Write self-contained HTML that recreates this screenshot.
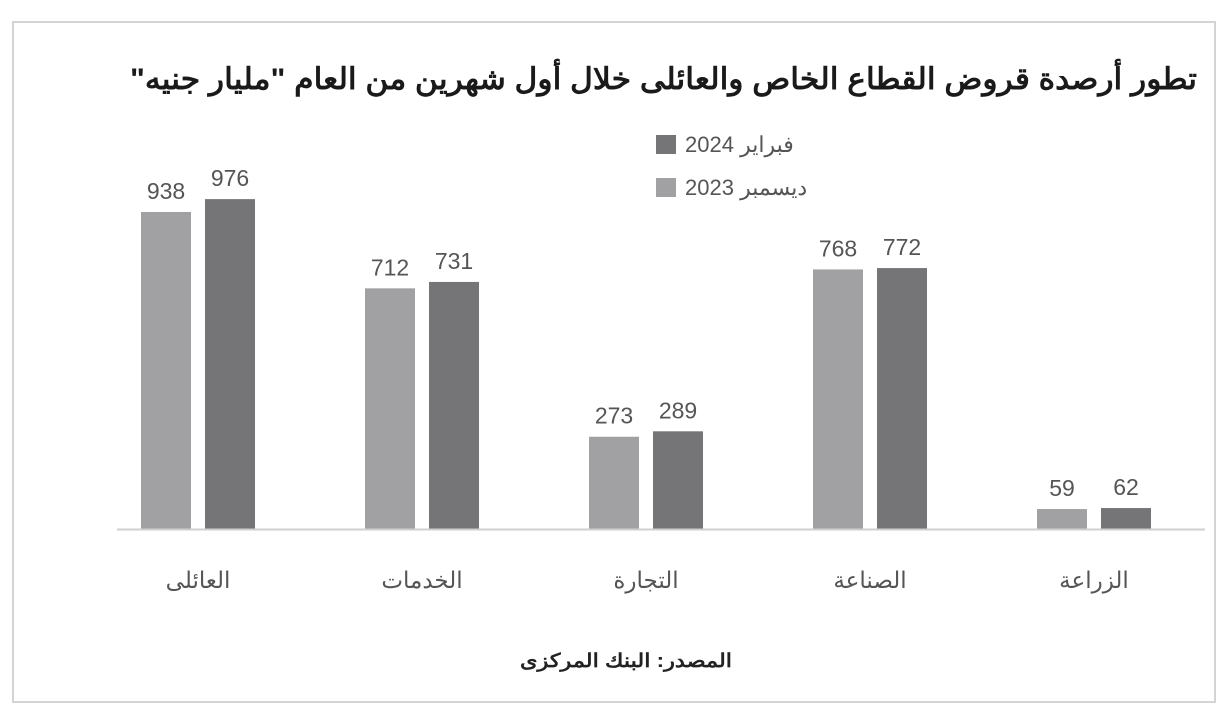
<!DOCTYPE html>
<html><head><meta charset="utf-8">
<style>
html,body{margin:0;padding:0;background:#fff;}
svg{display:block;font-family:"Liberation Sans","Noto Sans CJK SC",sans-serif;}
</style></head>
<body>
<svg id="chart" width="1228" height="720" viewBox="0 0 1228 720">
  <rect x="13" y="22" width="1202" height="680" fill="#fff" stroke="#d4d4d4" stroke-width="2"/>
  <text x="1197" y="89" text-anchor="start" direction="rtl" font-size="30" font-weight="bold" fill="#1a1a1a" textLength="1067" lengthAdjust="spacingAndGlyphs">تطور أرصدة قروض القطاع الخاص والعائلى خلال أول شهرين من العام "مليار جنيه"</text>
  <g>
    <rect x="656" y="135" width="20" height="19" fill="#757577"/>
    <text x="685" y="152" font-size="22" fill="#555"><tspan>2024</tspan><tspan direction="rtl"> فبراير</tspan></text>
    <rect x="656" y="178" width="20" height="19" fill="#a1a1a3"/>
    <text x="685" y="195" font-size="22" fill="#555"><tspan>2023</tspan><tspan direction="rtl"> ديسمبر</tspan></text>
  </g>
  <g id="plot"></g>
  <line x1="117" y1="529.5" x2="1205" y2="529.5" stroke="#cfcfcf" stroke-width="2"/>
  <text x="732" y="667" text-anchor="start" direction="rtl" font-size="19" font-weight="bold" fill="#222" textLength="212" lengthAdjust="spacingAndGlyphs">المصدر: البنك المركزى</text>
</svg>
<script>
const categories = ["العائلى","الخدمات","التجارة","الصناعة","الزراعة"];
const dec2023 = [938,712,273,768,59];
const feb2024 = [976,731,289,772,62];

const NS = "http://www.w3.org/2000/svg";
const plot = document.getElementById("plot");
const baseY = 529, pxPerUnit = 0.338;
const firstX = 141, groupStep = 224, barW = 50, barGap = 14;
function yScale(v){ return baseY - v * pxPerUnit; }
function xGroup(i){ return firstX + i * groupStep; }

categories.forEach(function(cat, i){
  const series = [[dec2023[i], "#a1a1a3", "dec-2023"], [feb2024[i], "#757577", "feb-2024"]];
  series.forEach(function(s, j){
    const x = xGroup(i) + j * (barW + barGap);
    const y = yScale(s[0]);
    const r = document.createElementNS(NS, "rect");
    r.setAttribute("x", x);
    r.setAttribute("y", y);
    r.setAttribute("width", barW);
    r.setAttribute("height", baseY - y);
    r.setAttribute("fill", s[1]);
    
    
    plot.appendChild(r);
    const t = document.createElementNS(NS, "text");
    t.setAttribute("x", x + barW / 2);
    t.setAttribute("y", y - 13);
    t.setAttribute("text-anchor", "middle");
    t.setAttribute("font-size", "23");
    t.setAttribute("fill", "#555");
    t.textContent = s[0];
    
    
    plot.appendChild(t);
  });
  const c = document.createElementNS(NS, "text");
  c.setAttribute("x", xGroup(i) + barW + barGap / 2);
  c.setAttribute("y", 588);
  c.setAttribute("text-anchor", "middle");
  c.setAttribute("direction", "rtl");
  c.setAttribute("font-size", "23");
  c.setAttribute("fill", "#555");
  c.textContent = cat;
  
  
  plot.appendChild(c);
});
</script>
</body></html>
